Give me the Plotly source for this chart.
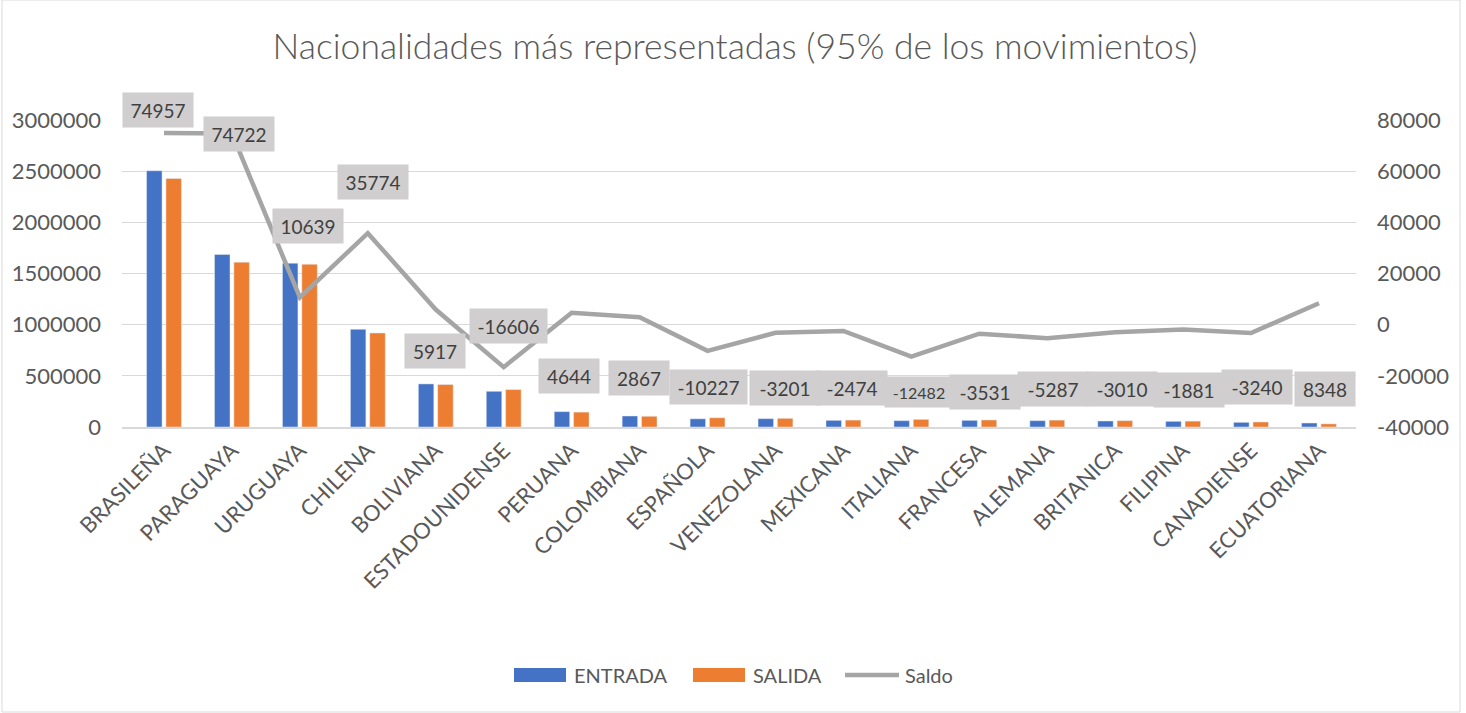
import plotly.graph_objects as go

categories = ["BRASILEÑA", "PARAGUAYA", "URUGUAYA", "CHILENA", "BOLIVIANA", "ESTADOUNIDENSE",
              "PERUANA", "COLOMBIANA", "ESPAÑOLA", "VENEZOLANA", "MEXICANA", "ITALIANA",
              "FRANCESA", "ALEMANA", "BRITANICA", "FILIPINA", "CANADIENSE", "ECUATORIANA"]
entrada = [2504000, 1686000, 1601000, 955000, 421000, 349000, 150000, 107600, 80000,
           81500, 65000, 62000, 65000, 62000, 58700, 55400, 45600, 39000]
salida = [2429000, 1611000, 1590000, 919000, 415000, 365600, 145400, 104700, 90200,
          84700, 67500, 74500, 68500, 67300, 61700, 57300, 48800, 30700]
saldo = [74957, 74722, 10639, 35774, 5917, -16606, 4644, 2867, -10227, -3201, -2474,
         -12482, -3531, -5287, -3010, -1881, -3240, 8348]

left_ticks = [0, 500000, 1000000, 1500000, 2000000, 2500000, 3000000]
right_ticks = [-40000, -20000, 0, 20000, 40000, 60000, 80000]

# label placement (pixel offsets relative to the point)
lab_dx = [-6, 7, 8, 5, -1, 5, -3, -1, 1, 10, 9, 8, 6, 6, 7, 6, 6, 6]
lab_dy = [23, 0, 71, 51, -41, 41, -63, -61, -36, -55, -57, -35, -58, -51, -57, -61, -54, -86]

TXT = "#595959"
FONT = "Lato"
COLORS = {"ENTRADA": "#4472C4", "SALIDA": "#ED7D31", "Saldo": "#A5A5A5"}

# plot area in pixels
L, R, T, B = 122, 1356, 120, 427
W, H = 1466, 713


def px(x):
    return (x - L) / (R - L)


def py(y):
    return (B - y) / (B - T)


fig = go.Figure()
fig.add_trace(go.Bar(x=categories, y=entrada, name="ENTRADA", marker_color=COLORS["ENTRADA"]))
fig.add_trace(go.Bar(x=categories, y=salida, name="SALIDA", marker_color=COLORS["SALIDA"]))
fig.add_trace(go.Scatter(x=categories, y=saldo, name="Saldo", mode="lines", yaxis="y2",
                         line=dict(color=COLORS["Saldo"], width=4.5)))

annotations = []
for i, (c, v) in enumerate(zip(categories, saldo)):
    s = str(v)
    small = (v == -12482)
    w = {4: 60, 5: 70, 6: 77}[len(s)]
    if small:
        w = 68
    annotations.append(dict(
        x=c, y=v, xref="x", yref="y2", text=s, showarrow=False,
        xshift=lab_dx[i], yshift=lab_dy[i],
        bgcolor="#D0CECE", width=w, height=30 if small else 34, borderpad=0,
        font=dict(family=FONT, size=16 if small else 19, color="#404040"),
    ))

shapes = [dict(type="rect", xref="paper", yref="paper",
               x0=px(2), x1=px(1460), y0=py(712), y1=py(0),
               line=dict(color="#D9D9D9", width=1), layer="below")]

# custom legend
legend_items = [("ENTRADA", 514, "rect"), ("SALIDA", 693, "rect"), ("Saldo", 845, "line")]
ly = 675
for name, x0, kind in legend_items:
    if kind == "rect":
        shapes.append(dict(type="rect", xref="paper", yref="paper",
                           x0=px(x0), x1=px(x0 + 52), y0=py(ly + 7), y1=py(ly - 7),
                           fillcolor=COLORS[name], line=dict(width=0)))
    else:
        shapes.append(dict(type="line", xref="paper", yref="paper",
                           x0=px(x0), x1=px(x0 + 54), y0=py(ly), y1=py(ly),
                           line=dict(color=COLORS[name], width=4.5)))
    annotations.append(dict(x=px(x0 + 58), y=py(ly), xref="paper", yref="paper", text=name,
                            showarrow=False, xanchor="left", yanchor="middle",
                            font=dict(family=FONT, size=20, color=TXT)))

fig.update_layout(
    width=W, height=H,
    margin=dict(l=L, r=W - R, t=T, b=H - B, autoexpand=False),
    paper_bgcolor="white", plot_bgcolor="white",
    showlegend=False,
    title=dict(text="Nacionalidades más representadas (95% de los movimientos)",
               x=(735 - L) / (R - L), xref="paper", xanchor="center", y=1 - 47 / H, yanchor="middle",
               font=dict(family=FONT, size=35.5, color=TXT, weight=300)),
    barmode="group", bargap=0.43, bargroupgap=0.2,
    font=dict(family=FONT, color=TXT),
    xaxis=dict(tickangle=-45, tickfont=dict(size=22, color=TXT), showgrid=False,
               showline=True, linecolor="#D9D9D9", linewidth=2, ticks=""),
    yaxis=dict(range=[0, 3000000], tickvals=left_ticks, ticktext=[str(t) for t in left_ticks],
               tickfont=dict(size=22, color=TXT), showgrid=True, gridcolor="#D9D9D9",
               gridwidth=1, zeroline=False, ticklabelstandoff=20),
    yaxis2=dict(range=[-40000, 80000], overlaying="y", side="right", tickvals=right_ticks,
                ticktext=[str(t) for t in right_ticks], tickfont=dict(size=22, color=TXT),
                showgrid=False, zeroline=False, ticklabelstandoff=20),
    annotations=annotations,
    shapes=shapes,
)

fig.write_html("out.html", config={"displayModeBar": False},
               post_script="document.body.style.margin='0';")
